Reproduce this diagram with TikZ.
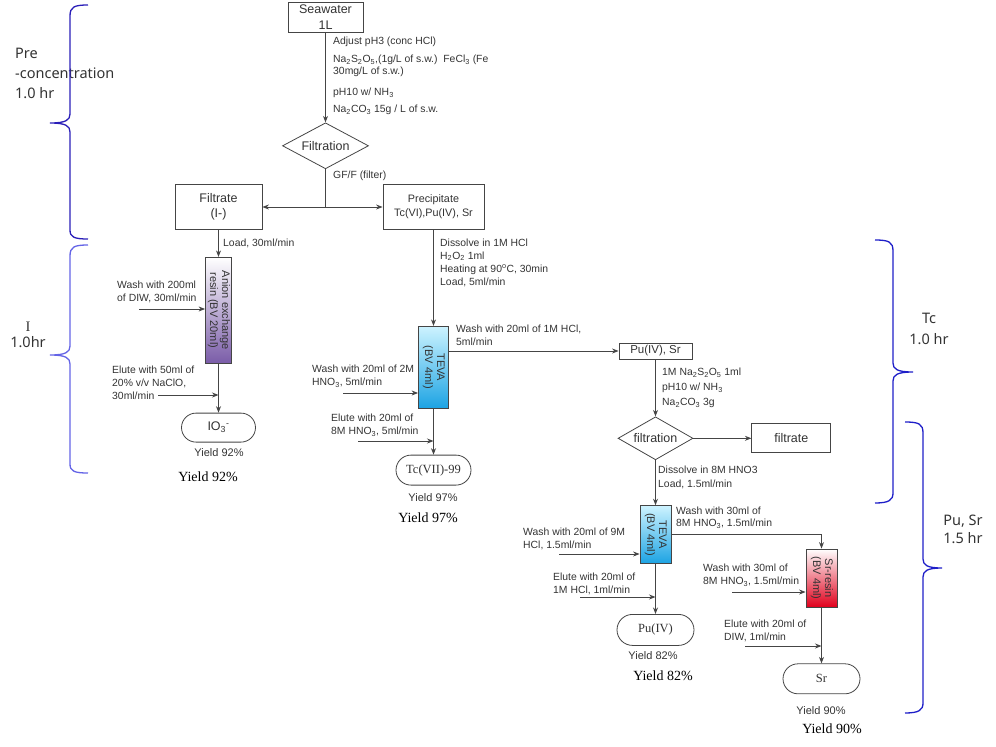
\documentclass[tikz,border=0pt]{standalone}
\usepackage{fontspec}
\setmainfont{Liberation Sans}
\newfontfamily\timesfont{Liberation Serif}
\newfontfamily\bracefont{Noto Sans}
\usetikzlibrary{positioning,arrows,arrows.meta}
\usetikzlibrary{shapes.geometric,shapes.misc}

\definecolor{linegray}{HTML}{454545}
\definecolor{textgray}{HTML}{333333}
\definecolor{bracedark}{HTML}{2A1EB8}
\definecolor{bracelight}{HTML}{6464E6}
\definecolor{braceblue}{HTML}{1E1EC8}
\definecolor{anionbot}{HTML}{7A5CA8}
\definecolor{tevatop}{HTML}{CDF3FF}
\definecolor{tevabot}{HTML}{1CA3E3}
\definecolor{srbot}{HTML}{E0001C}

\begin{document}
\begin{tikzpicture}[
x=1pt, y=-1pt,
>={Stealth[length=6.5pt,width=5pt]},
boxnode/.style={rectangle, draw=linegray, line width=0.8pt, fill=white, text=textgray, align=center, font=\fontsize{12.5}{15}\selectfont, inner sep=1pt},
smallbox/.style={boxnode, font=\fontsize{10.8}{14}\selectfont},
filternode/.style={diamond, draw=linegray, line width=0.8pt, fill=white, text=textgray, font=\fontsize{12.5}{15}\selectfont, inner sep=0pt, aspect=2},
endnode/.style={rounded rectangle, draw=linegray, line width=0.8pt, fill=white, text=textgray, font=\fontsize{12.5}{15}\selectfont, inner sep=0pt},
colnode/.style={rectangle, draw=linegray, line width=0.8pt, text=textgray, font=\fontsize{11}{12}\selectfont, inner sep=0pt},
note/.style={text=textgray, font=\fontsize{10.4}{13}\selectfont, align=left, anchor=west, inner sep=0pt},
yieldA/.style={text=textgray, font=\fontsize{11}{13}\selectfont, inner sep=0pt},
yieldT/.style={font=\timesfont\fontsize{14}{16}\selectfont, inner sep=0pt},
flow/.style={draw=linegray, line width=0.9pt},
timebrace/.style={line width=1.3pt},
bracelbl/.style={text=textgray, font=\bracefont\fontsize{14.5}{20}\selectfont, inner sep=0pt}
]
\useasboundingbox (0,0) rectangle (996,747);
%Nodes
\node[boxnode, minimum width=75pt, minimum height=30pt, font=\fontsize{12.5}{16}\selectfont, inner sep=0pt] (seawater) at (325.5,17) {Seawater\\1L};
\node[filternode, minimum width=86pt, minimum height=46pt] (filtration) [below=90pt of seawater] {Filtration};
\node[boxnode, minimum width=87pt, minimum height=45pt] (filtrate) at (218.5,207) {Filtrate\\(I-)};
\node[smallbox, minimum width=101pt, minimum height=45pt] (precipitate) at (433.5,207) {Precipitate\\Tc(VI),Pu(IV), Sr};
\node[colnode, top color=white, bottom color=anionbot, minimum width=26pt, minimum height=106pt] (anion) [below=27pt of filtrate] {\rotatebox{-90}{\begin{tabular}{@{}c@{}}Anion exchange\\resin (BV 20ml)\end{tabular}}};
\node[endnode, minimum width=74pt, minimum height=29pt] (io3) [below=49pt of anion] {IO\textsubscript{3}\textsuperscript{-}};
\node[colnode, top color=tevatop, bottom color=tevabot, minimum width=30pt, minimum height=82pt] (teva) [below=96pt of precipitate] {\rotatebox{-90}{\begin{tabular}{@{}c@{}}TEVA\\(BV 4ml)\end{tabular}}};
\node[endnode, minimum width=75pt, minimum height=30pt, font=\timesfont\fontsize{12.5}{15}\selectfont] (tc) [below=46pt of teva] {Tc(VII)-99};
\node[boxnode, font=\fontsize{11.5}{13}\selectfont, minimum width=73pt, minimum height=16pt] (pusr) at (655.5,351) {Pu(IV), Sr};
\node[filternode, minimum width=75pt, minimum height=43pt] (filtration2) [below=57pt of pusr] {filtration};
\node[boxnode, minimum width=79pt, minimum height=29pt] (filtrate2) [right=58pt of filtration2] {filtrate};
\node[colnode, top color=tevatop, bottom color=tevabot, minimum width=31pt, minimum height=58pt] (teva2) [below=45pt of filtration2] {\rotatebox{-90}{\begin{tabular}{@{}c@{}}TEVA\\(BV 4ml)\end{tabular}}};
\node[endnode, minimum width=77pt, minimum height=31pt, font=\timesfont\fontsize{12.5}{15}\selectfont] (puiv) [below=50pt of teva2] {Pu(IV)};
\node[colnode, top color=white, bottom color=srbot, minimum width=31pt, minimum height=58pt] (srresin) at (821.5,578) {\rotatebox{-90}{\begin{tabular}{@{}c@{}}Sr-resin\\(BV 4ml)\end{tabular}}};
\node[endnode, minimum width=77pt, minimum height=30pt, font=\timesfont\fontsize{12.5}{15}\selectfont] (sr) [below=56pt of srresin] {Sr};
%Notes
\node[note] (adjust) at (333,42) {Adjust pH3 (conc HCl)};
\node[note, font=\fontsize{10.4}{12}\selectfont] (reduce) at (333,66) {Na\textsubscript{2}S\textsubscript{2}O\textsubscript{5},(1g/L of s.w.)\ \ FeCl\textsubscript{3} (Fe\\30mg/L of s.w.)};
\node[note] (ammonia) at (333,93) {pH10 w/ NH\textsubscript{3}};
\node[note] (carbonate) at (333,110) {Na\textsubscript{2}CO\textsubscript{3} 15g / L of s.w.};
\node[note] (gff) at (333,176) {GF/F (filter)};
\node[note] (load) at (223,243) {Load, 30ml/min};
\node[note] (washdiw) at (117,291.5) {Wash with 200ml\\of DIW, 30ml/min};
\node[note] (elutenaclo) at (112,382.5) {Elute with 50ml of\\20\% v/v NaClO,\\30ml/min};
\node[note] (dissolve) at (440,262.5) {Dissolve in 1M HCl\\H\textsubscript{2}O\textsubscript{2} 1ml\\Heating at 90\textsuperscript{o}C, 30min\\Load, 5ml/min};
\node[note] (washhcl) at (456,335) {Wash with 20ml of 1M HCl,\\5ml/min};
\node[note] (washhno) at (312,376.5) {Wash with 20ml of 2M\\HNO\textsubscript{3}, 5ml/min};
\node[note] (elutehno) at (331,425) {Elute with 20ml of\\8M HNO\textsubscript{3}, 5ml/min};
\node[note, font=\fontsize{10.4}{15}\selectfont] (reduce2) at (662,388) {1M Na\textsubscript{2}S\textsubscript{2}O\textsubscript{5} 1ml\\pH10 w/ NH\textsubscript{3}\\Na\textsubscript{2}CO\textsubscript{3} 3g};
\node[note, font=\fontsize{10.4}{14}\selectfont] (dissolve2) at (658,477) {Dissolve in 8M HNO3\\Load, 1.5ml/min};
\node[note, font=\fontsize{10.4}{12}\selectfont] (washtosr) at (676,517.5) {Wash with 30ml of\\8M HNO\textsubscript{3}, 1.5ml/min};
\node[note] (wash9m) at (523,539) {Wash with 20ml of 9M\\HCl, 1.5ml/min};
\node[note] (elute1m) at (553,584) {Elute with 20ml of\\1M HCl, 1ml/min};
\node[note] (washsr) at (703,575.5) {Wash with 30ml of\\8M HNO\textsubscript{3}, 1.5ml/min};
\node[note] (elutediw) at (724,631) {Elute with 20ml of\\DIW, 1ml/min};
%Yields
\node[yieldA] (yieldia) at (219,453) {Yield 92\%};
\node[yieldT] (yieldib) at (208,477) {Yield 92\%};
\node[yieldA] (yieldtca) at (433,498) {Yield 97\%};
\node[yieldT] (yieldtcb) at (428,518) {Yield 97\%};
\node[yieldA] (yieldpua) at (653,656) {Yield 82\%};
\node[yieldT] (yieldpub) at (663,676) {Yield 82\%};
\node[yieldA] (yieldsra) at (821,711) {Yield 90\%};
\node[yieldT] (yieldsrb) at (832,729) {Yield 90\%};
%Time labels
\node[bracelbl, align=left, anchor=west] (prelbl) at (15,73) {Pre\\-concentration\\1.0 hr};
\node[bracelbl, align=center, font=\bracefont\fontsize{14.5}{16}\selectfont] (ilbl) at (28,335) {{\timesfont I}\\1.0hr};
\node[bracelbl, align=center, font=\bracefont\fontsize{14.5}{21}\selectfont] (tclbl) at (929,329) {Tc\\1.0 hr};
\node[bracelbl, align=center, font=\bracefont\fontsize{14.5}{18}\selectfont] (puslbl) at (963,529) {Pu, Sr\\1.5 hr};
%Free ends
\coordinate (split) at (filtration.south |- filtrate.east);
\coordinate (washdiwin) at (139,309);
\coordinate (elutenacloin) at (158,395);
\coordinate (washhnoin) at (343,393);
\coordinate (elutehnoin) at (358,441);
\coordinate (wash9min) at (559,554);
\coordinate (elute1min) at (580,597);
\coordinate (washsrin) at (732,592);
\coordinate (elutediwin) at (745,646);
%Lines
\draw[flow,->] (seawater) -- (filtration);
\draw[flow] (filtration) -- (split);
\draw[flow,->] (split) -- (filtrate);
\draw[flow,->] (split) -- (precipitate);
\draw[flow,->] (filtrate) -- (anion);
\draw[flow,->] (washdiwin) -- (washdiwin -| anion.west);
\draw[flow,->] (anion) -- (io3);
\draw[flow,->] (elutenacloin) -- (elutenacloin -| anion.south);
\draw[flow,->] (precipitate) -- (teva);
\draw[flow,->] (teva.east |- pusr.west) -- (pusr.west);
\draw[flow,->] (washhnoin) -- (washhnoin -| teva.west);
\draw[flow,->] (teva) -- (tc);
\draw[flow,->] (elutehnoin) -- (elutehnoin -| teva.south);
\draw[flow,->] (pusr) -- (filtration2);
\draw[flow,->] (filtration2) -- (filtrate2);
\draw[flow,->] (filtration2) -- (teva2);
\draw[flow,->] (teva2.east) -| (srresin.north);
\draw[flow,->] (wash9min) -- (wash9min -| teva2.west);
\draw[flow,->] (teva2) -- (puiv);
\draw[flow,->] (elute1min) -- (elute1min -| teva2.south);
\draw[flow,->] (washsrin) -- (washsrin -| srresin.west);
\draw[flow,->] (srresin) -- (sr);
\draw[flow,->] (elutediwin) -- (elutediwin -| srresin.south);
%Braces
\draw[timebrace, draw=bracedark] (88,5) .. controls (74,5) and (70,7) .. (70,16) -- (70,114) .. controls (70,120) and (66,123) .. (50,123) .. controls (66,123) and (70,126) .. (70,132) -- (70,230) .. controls (70,237) and (74,239) .. (88,239);
\draw[timebrace, draw=bracelight] (88,245) .. controls (74,245) and (70,247) .. (70,256) -- (70,346) .. controls (70,352) and (66,355) .. (50,355) .. controls (66,355) and (70,358) .. (70,364) -- (70,464) .. controls (70,471) and (74,473) .. (88,473);
\draw[timebrace, draw=braceblue] (875,240) .. controls (889,240) and (893,242) .. (893,251) -- (893,363) .. controls (893,369) and (897,372) .. (913,372) .. controls (897,372) and (893,375) .. (893,381) -- (893,493) .. controls (893,500) and (889,503) .. (875,503);
\draw[timebrace, draw=braceblue] (905,422) .. controls (919,422) and (923,424) .. (923,433) -- (923,559) .. controls (923,565) and (927,568) .. (942,568) .. controls (927,568) and (923,571) .. (923,577) -- (923,703) .. controls (923,710) and (919,713) .. (905,713);
\end{tikzpicture}
\end{document}
